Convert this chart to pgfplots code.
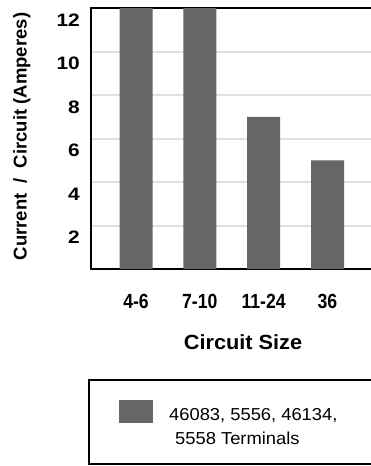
\documentclass[border=0pt]{standalone}
\usepackage{fontspec}
\setmainfont{Liberation Sans}
\newfontfamily\ytickfont[FakeStretch=1.16]{Liberation Sans}
\newfontfamily\xtickfont[FakeStretch=0.86]{Liberation Sans}
\newfontfamily\labfont[FakeStretch=1.06]{Liberation Sans}
\newfontfamily\legfont[FakeStretch=1.06]{Liberation Sans}
\usepackage{pgfplots}
\pgfplotsset{compat=1.18}
\definecolor{barc}{HTML}{666666}
\definecolor{gridc}{HTML}{E0E0E0}
\begin{document}
\begin{tikzpicture}
\useasboundingbox (0,0) rectangle (371bp,-466bp);
\begin{scope}
\clip (0,0) rectangle (371bp,-466bp);
\begin{axis}[
  scale only axis, width=281.5bp, height=261bp,
  at={(91bp,-269bp)}, anchor=south west,
  xmin=-0.705, xmax=3.705, ymin=0, ymax=12,
  ybar, bar width=33bp,
  xtick={0,1,2,3}, xticklabels={4-6,7-10,11-24,36},
  ytick={2,4,6,8,10,12},
  ymajorgrids, grid style={gridc, line width=2bp},
  major tick length=0pt,
  axis line style={line width=1.2bp},
  tick label style={/pgf/number format/assume math mode=true},
  yticklabel style={anchor=base east, inner sep=0pt, xshift=-11bp, yshift=-18bp,
    font=\ytickfont\bfseries\fontsize{18bp}{20bp}\selectfont},
  xticklabel style={anchor=base, inner sep=0pt, yshift=-39bp,
    font=\xtickfont\bfseries\fontsize{20.5bp}{22bp}\selectfont},
  xlabel={Circuit Size},
  xlabel style={at={(axis description cs:0.54,-0.3103)}, anchor=base, inner sep=0pt, font=\labfont\bfseries\fontsize{20.5bp}{24bp}\selectfont},
  ylabel={Current\hspace{5bp} / \hspace{5bp}Circuit (Amperes)},
  ylabel style={at={(axis description cs:-0.2284,0.5077)}, anchor=base, inner sep=0pt, font=\bfseries\fontsize{18.5bp}{22bp}\selectfont},
  legend style={draw=none, fill=none, at={(axis description cs:0.0995,-0.502)}, anchor=north west, inner sep=0pt,
    font=\legfont\fontsize{17.3bp}{23.4bp}\selectfont},
  legend image code/.code={\path[fill=none,draw=none] (0bp,0bp) rectangle (48bp,18.3bp);\fill[barc] (0bp,-4.7bp) rectangle (34bp,18.3bp);},
]
\addplot[fill=barc, draw=none] coordinates {(0,12) (1,12) (2,7) (3,5)};
\addlegendentry{\raisebox{5bp}[\height][\depth]{\begin{tabular}[t]{@{}l@{}}46083, 5556, 46134,\\\hspace*{6bp}5558 Terminals\end{tabular}}}
\end{axis}
\draw[line width=1.5bp] (89bp,-380bp) rectangle (420bp,-464bp);
\end{scope}
\end{tikzpicture}
\end{document}
